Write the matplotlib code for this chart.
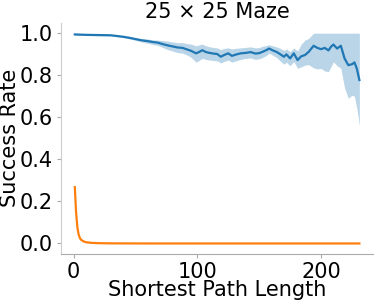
import matplotlib.pyplot as plt

# success rate vs shortest path length, 25x25 maze
path_len = [1, 10, 20, 30, 40, 45, 50, 55, 60,
            64, 68, 72, 76, 80, 84, 88, 92, 95, 99,
            102, 104, 107, 110, 113, 116, 119, 122, 125, 128,
            131, 135, 139, 143, 147, 150, 153, 156, 158, 161,
            164, 167, 170, 172, 175, 178, 181, 184, 187, 190,
            194, 197, 200, 203, 206, 208, 210, 213, 216, 219,
            222, 225, 227, 229, 231]
success = [0.994, 0.992, 0.991, 0.990, 0.983, 0.978, 0.972, 0.966, 0.962,
           0.958, 0.955, 0.948, 0.942, 0.937, 0.932, 0.930, 0.922, 0.916, 0.904,
           0.912, 0.919, 0.910, 0.906, 0.903, 0.901, 0.888, 0.897, 0.904, 0.892,
           0.898, 0.904, 0.906, 0.910, 0.903, 0.905, 0.912, 0.920, 0.927, 0.918,
           0.911, 0.900, 0.888, 0.899, 0.880, 0.904, 0.872, 0.890, 0.896, 0.911,
           0.940, 0.930, 0.924, 0.930, 0.918, 0.935, 0.946, 0.927, 0.940, 0.880,
           0.848, 0.852, 0.861, 0.830, 0.777]
success_hi = [0.997, 0.995, 0.994, 0.993, 0.987, 0.983, 0.978, 0.974, 0.972,
              0.968, 0.967, 0.965, 0.962, 0.958, 0.955, 0.955, 0.950, 0.948, 0.940,
              0.945, 0.948, 0.940, 0.935, 0.932, 0.930, 0.922, 0.928, 0.930, 0.925,
              0.928, 0.930, 0.932, 0.935, 0.930, 0.932, 0.938, 0.942, 0.945, 0.940,
              0.935, 0.928, 0.918, 0.925, 0.912, 0.930, 0.915, 0.948, 0.967, 0.975,
              1.0, 1.0, 1.0, 1.0, 1.0, 1.0, 1.0, 1.0, 1.0, 1.0,
              1.0, 1.0, 1.0, 1.0, 1.0]
success_lo = [0.991, 0.989, 0.988, 0.987, 0.979, 0.973, 0.966, 0.958, 0.952,
              0.946, 0.942, 0.932, 0.922, 0.915, 0.908, 0.905, 0.895, 0.885, 0.862,
              0.872, 0.880, 0.875, 0.872, 0.870, 0.868, 0.858, 0.866, 0.872, 0.862,
              0.868, 0.875, 0.880, 0.882, 0.875, 0.878, 0.885, 0.895, 0.905, 0.895,
              0.885, 0.868, 0.852, 0.862, 0.845, 0.865, 0.833, 0.840, 0.848, 0.850,
              0.835, 0.830, 0.832, 0.820, 0.817, 0.840, 0.864, 0.845, 0.833, 0.740,
              0.690, 0.705, 0.700, 0.640, 0.560]

base_len = [1, 2, 3, 4, 5, 6, 8, 10, 14, 20, 30, 60, 120, 231]
baseline = [0.268, 0.15, 0.08, 0.045, 0.027, 0.018, 0.010, 0.006, 0.003, 0.0015, 0.0005,
            0.0, 0.0, 0.0]

fs = 15
fig = plt.figure(figsize=(3.74, 3.02), dpi=100)
ax = fig.add_axes([0.162, 0.159, 0.837, 0.766])

ax.plot(path_len, success, color='tab:blue', lw=1.6)
ax.fill_between(path_len, success_lo, success_hi, color='tab:blue', alpha=0.3, lw=0)
ax.plot(base_len, baseline, color='tab:orange', lw=1.6)

ax.set_title('25 × 25 Maze', fontsize=fs, pad=3)
ax.set_xlabel('Shortest Path Length', fontsize=fs, labelpad=-1)
ax.set_ylabel('Success Rate', fontsize=fs, labelpad=0)
ax.set_xticks([0, 100, 200])
ax.set_yticks([0.0, 0.2, 0.4, 0.6, 0.8, 1.0])
ax.tick_params(labelsize=fs, length=3, width=0.8, color='#aaaaaa', pad=2.5)
for s in ['top', 'right']:
    ax.spines[s].set_visible(False)
ax.spines['left'].set_color('#cccccc')
ax.spines['bottom'].set_color('#aaaaaa')

fig.savefig('out.png', dpi=100)
